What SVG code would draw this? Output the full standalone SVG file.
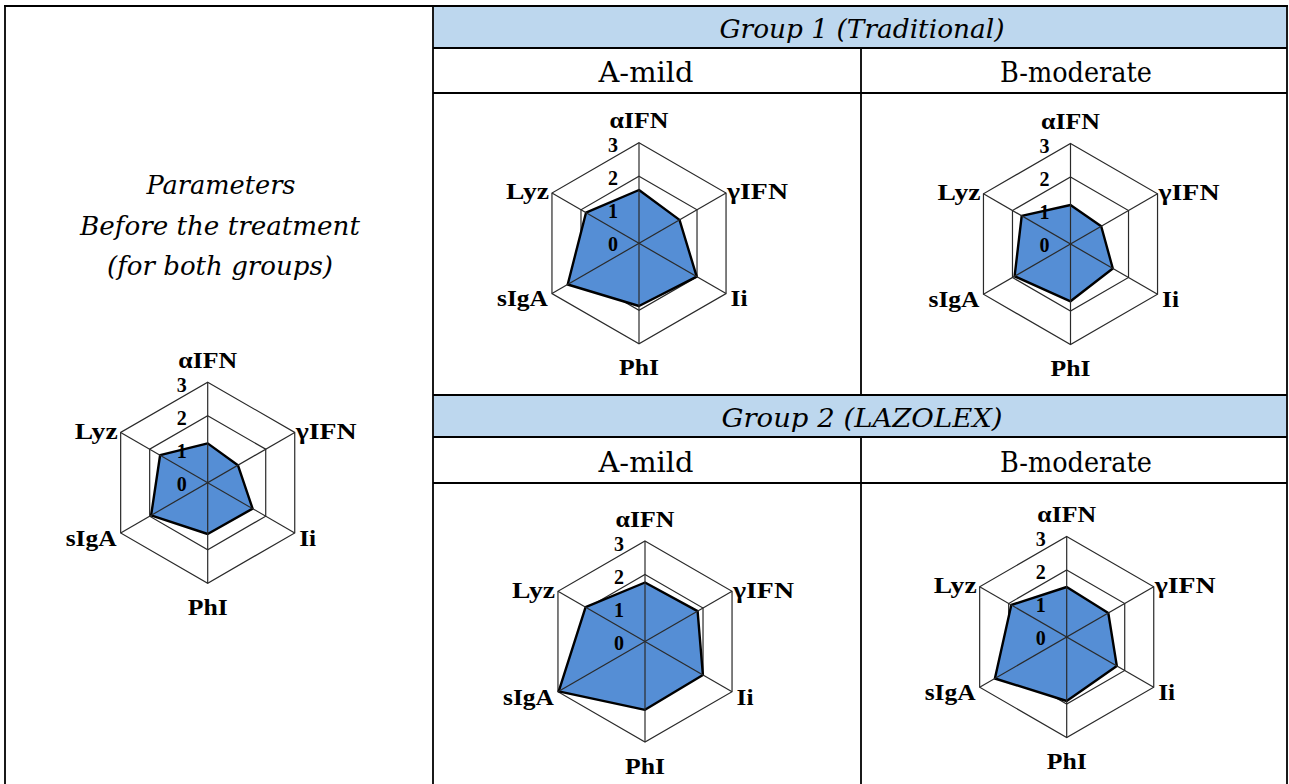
<svg xmlns="http://www.w3.org/2000/svg" xmlns:xlink="http://www.w3.org/1999/xlink" width="1289" height="784" viewBox="0 0 1289 784">
<style>
.tbl{stroke:#000;stroke-width:1.8;fill:none}
.band{fill:#BDD7EE}
.hdr{font-family:"DejaVu Serif","Liberation Serif",serif;font-style:italic;font-size:26px;text-anchor:middle;fill:#000}
.sub{font-family:"DejaVu Serif","Liberation Serif",serif;font-size:27px;text-anchor:middle;fill:#000}
.par{font-family:"DejaVu Serif","Liberation Serif",serif;font-style:italic;font-size:26px;text-anchor:middle;fill:#000}
.ring{fill:none;stroke:#2a2a2a;stroke-width:1.2}
.spoke{stroke:#2a2a2a;stroke-width:1.2}
.data{fill:#558ED5;stroke:#000;stroke-width:2.4;stroke-linejoin:round}
.lbl{font-family:"Liberation Serif","Times New Roman",serif;font-weight:bold;font-size:24px;fill:#000}
.tick{font-family:"Liberation Serif","Times New Roman",serif;font-weight:bold;font-size:20px;text-anchor:middle;fill:#000}
</style>
<defs>
<g id="grid">
<polygon class="ring" points="0,-100.5 87.04,-50.25 87.04,50.25 0,100.5 -87.04,50.25 -87.04,-50.25"/>
<polygon class="ring" points="0,-67 58.02,-33.5 58.02,33.5 0,67 -58.02,33.5 -58.02,-33.5"/>
<polygon class="ring" points="0,-33.5 29.01,-16.75 29.01,16.75 0,33.5 -29.01,16.75 -29.01,-16.75"/>
</g>
<g id="spokes">
<line class="spoke" x1="0" y1="-100.5" x2="0" y2="100.5"/>
<line class="spoke" x1="87.04" y1="-50.25" x2="-87.04" y2="50.25"/>
<line class="spoke" x1="87.04" y1="50.25" x2="-87.04" y2="-50.25"/>
</g>
<g id="labels">
<text class="lbl" x="0" y="-115" text-anchor="middle" textLength="59" lengthAdjust="spacingAndGlyphs">αIFN</text>
<text class="lbl" x="88" y="-44" text-anchor="start" textLength="61" lengthAdjust="spacingAndGlyphs">γIFN</text>
<text class="lbl" x="91.5" y="63" text-anchor="start" textLength="17" lengthAdjust="spacingAndGlyphs">Ii</text>
<text class="lbl" x="0" y="132" text-anchor="middle" textLength="40" lengthAdjust="spacingAndGlyphs">PhI</text>
<text class="lbl" x="-91" y="63" text-anchor="end" textLength="51" lengthAdjust="spacingAndGlyphs">sIgA</text>
<text class="lbl" x="-90" y="-44" text-anchor="end" textLength="43" lengthAdjust="spacingAndGlyphs">Lyz</text>
<text class="tick" x="-26" y="-91">3</text>
<text class="tick" x="-26" y="-58">2</text>
<text class="tick" x="-26" y="-25">1</text>
<text class="tick" x="-26" y="8">0</text>
</g>
</defs>

<g id="table">
<rect class="band" x="434" y="7" width="852" height="41"/>
<rect class="band" x="434" y="396" width="852" height="41"/>
<line class="tbl" x1="4" y1="6" x2="1288" y2="6"/>
<line class="tbl" x1="5" y1="5" x2="5" y2="784"/>
<line class="tbl" x1="433" y1="5" x2="433" y2="784"/>
<line class="tbl" x1="1287" y1="5" x2="1287" y2="784"/>
<line class="tbl" x1="433" y1="48" x2="1287" y2="48"/>
<line class="tbl" x1="433" y1="93" x2="1287" y2="93"/>
<line class="tbl" x1="433" y1="395" x2="1287" y2="395"/>
<line class="tbl" x1="433" y1="437" x2="1287" y2="437"/>
<line class="tbl" x1="433" y1="483" x2="1287" y2="483"/>
<line class="tbl" x1="861" y1="48" x2="861" y2="395"/>
<line class="tbl" x1="861" y1="437" x2="861" y2="784"/>
</g>

<g id="header-group1">
<text class="hdr" x="862" y="38" textLength="285" lengthAdjust="spacingAndGlyphs">Group 1 (Traditional)</text>
</g>
<g id="header-g1-a"><text class="sub" x="646" y="82" textLength="95" lengthAdjust="spacingAndGlyphs">A-mild</text></g>
<g id="header-g1-b"><text class="sub" x="1076" y="82" textLength="152" lengthAdjust="spacingAndGlyphs">B-moderate</text></g>
<g id="header-group2">
<text class="hdr" x="862" y="427" textLength="281" lengthAdjust="spacingAndGlyphs">Group 2 (LAZOLEX)</text>
</g>
<g id="header-g2-a"><text class="sub" x="646" y="472" textLength="95" lengthAdjust="spacingAndGlyphs">A-mild</text></g>
<g id="header-g2-b"><text class="sub" x="1076" y="472" textLength="152" lengthAdjust="spacingAndGlyphs">B-moderate</text></g>

<g id="params-title">
<text class="par" x="221" y="194" textLength="149" lengthAdjust="spacingAndGlyphs">Parameters</text>
<text class="par" x="220" y="235" textLength="280" lengthAdjust="spacingAndGlyphs">Before the treatment</text>
<text class="par" x="220" y="275" textLength="226" lengthAdjust="spacingAndGlyphs">(for both groups)</text>
</g>

<g id="chart-before" transform="translate(207.7,482.7)">
<use xlink:href="#grid"/>
<polygon class="data" points="0,-39.3 30.2,-17.5 44.9,25.9 0,51.3 -56.6,32.7 -47.6,-27.5"/>
<use xlink:href="#spokes"/>
<use xlink:href="#labels"/>
</g>

<g id="chart-g1-a" transform="translate(639,243.3)">
<use xlink:href="#grid"/>
<polygon class="data" points="0,-53.3 40.5,-23.4 57.7,33.3 0,62.7 -71.3,41.2 -53,-30.6"/>
<use xlink:href="#spokes"/>
<use xlink:href="#labels"/>
</g>

<g id="chart-g1-b" transform="translate(1070.5,244)">
<use xlink:href="#grid"/>
<polygon class="data" points="0,-39 30.7,-17.7 42.3,24.5 0,57.3 -55.9,32.3 -48.8,-28.2"/>
<use xlink:href="#spokes"/>
<use xlink:href="#labels"/>
</g>

<g id="chart-g2-a" transform="translate(645,641.5)">
<use xlink:href="#grid"/>
<polygon class="data" points="0,-59 52.6,-30.4 57.9,33.5 0,68.3 -86.3,49.9 -59.4,-34.3"/>
<use xlink:href="#spokes"/>
<use xlink:href="#labels"/>
</g>

<g id="chart-g2-b" transform="translate(1066.7,637)">
<use xlink:href="#grid"/>
<polygon class="data" points="0,-50 41.6,-24 50.1,28.9 0,64 -71.8,41.5 -55.4,-32"/>
<use xlink:href="#spokes"/>
<use xlink:href="#labels"/>
</g>
</svg>
